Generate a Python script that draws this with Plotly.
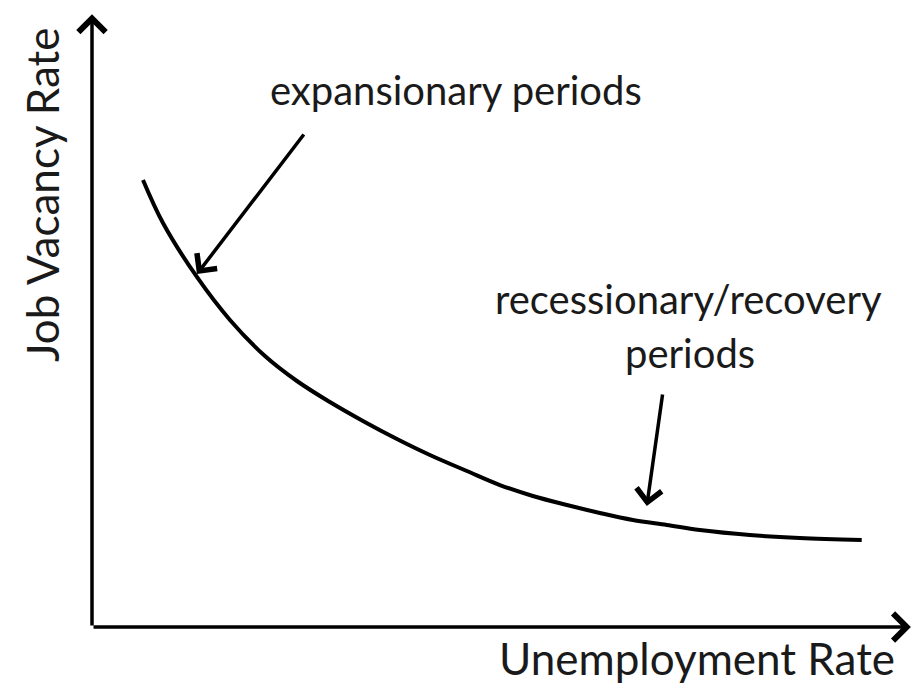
import plotly.graph_objects as go

# Beveridge curve (schematic): unemployment rate vs job vacancy rate
unemployment = [0.622, 0.866, 1.280, 1.683, 2.110, 2.500, 2.902, 3.305, 3.720, 4.122,
                4.573, 4.976, 5.378, 5.793, 6.195, 6.598, 7.012, 7.415, 8.024, 8.634, 9.390]
vacancy = [7.245, 6.548, 5.673, 4.976, 4.392, 3.987, 3.646, 3.339, 3.047, 2.788,
           2.528, 2.301, 2.123, 1.977, 1.848, 1.734, 1.653, 1.572, 1.491, 1.442, 1.410]

x_title = "Unemployment Rate"
y_title = "Job Vacancy Rate"

# annotation arrows: (tail_x, tail_y, head_x, head_y)
expansion_arrow = (2.598, 8.006, 1.280, 5.720)
recession_arrow = (6.963, 3.792, 6.768, 1.961)
expansion_label = "expansionary periods"
recession_label = ["recessionary/recovery", "periods"]

x_max = 10.04
y_max = 10.0

FONT = "Lato"
TXT = "#1a1a1a"

fig = go.Figure()
fig.add_trace(go.Scatter(
    x=unemployment, y=vacancy, mode="lines",
    line=dict(color="black", width=4, shape="spline", smoothing=1.0),
    hoverinfo="skip", showlegend=False,
))

def arrow(tail_x, tail_y, head_x, head_y, width, size):
    return dict(
        x=head_x, y=head_y, ax=tail_x, ay=tail_y,
        xref="x", yref="y", axref="x", ayref="y",
        showarrow=True, arrowhead=4, arrowsize=size, arrowwidth=width,
        arrowcolor="black", standoff=0, startstandoff=0, text="",
    )

annotations = [
    # axes
    arrow(0, 0, 0, 9.93, 3.5, 1.5),
    arrow(0, 0, 9.99, 0, 3.5, 1.5),
    # pointers
    arrow(*expansion_arrow, 3.5, 1.4),
    arrow(*recession_arrow, 3.5, 1.4),
]

def label(text, px, py, size, angle=0, yanchor="middle"):
    return dict(
        x=(px - 92) / 823, y=(627 - py) / 617, xref="paper", yref="paper",
        text=text, showarrow=False, textangle=angle,
        xanchor="center", yanchor=yanchor,
        font=dict(family=FONT, size=size, color=TXT),
    )

annotations += [
    label(expansion_label, 456, 90, 40),
    label(recession_label[0], 688, 299, 40),
    label(recession_label[1], 690, 353, 40),
    label(x_title, 697, 686, 44, yanchor="bottom"),
    label(y_title, 42, 195, 44, angle=-90),
]

fig.update_layout(
    width=915, height=687,
    margin=dict(l=92, r=0, t=10, b=60),
    paper_bgcolor="white", plot_bgcolor="white",
    xaxis=dict(range=[0, x_max], visible=False, fixedrange=True),
    yaxis=dict(range=[0, y_max], visible=False, fixedrange=True),
    annotations=annotations,
    showlegend=False,
)

fig.write_html(
    "out.html",
    config={"displayModeBar": False},
    post_script="document.body.style.margin='0';document.body.style.overflow='hidden';",
)
